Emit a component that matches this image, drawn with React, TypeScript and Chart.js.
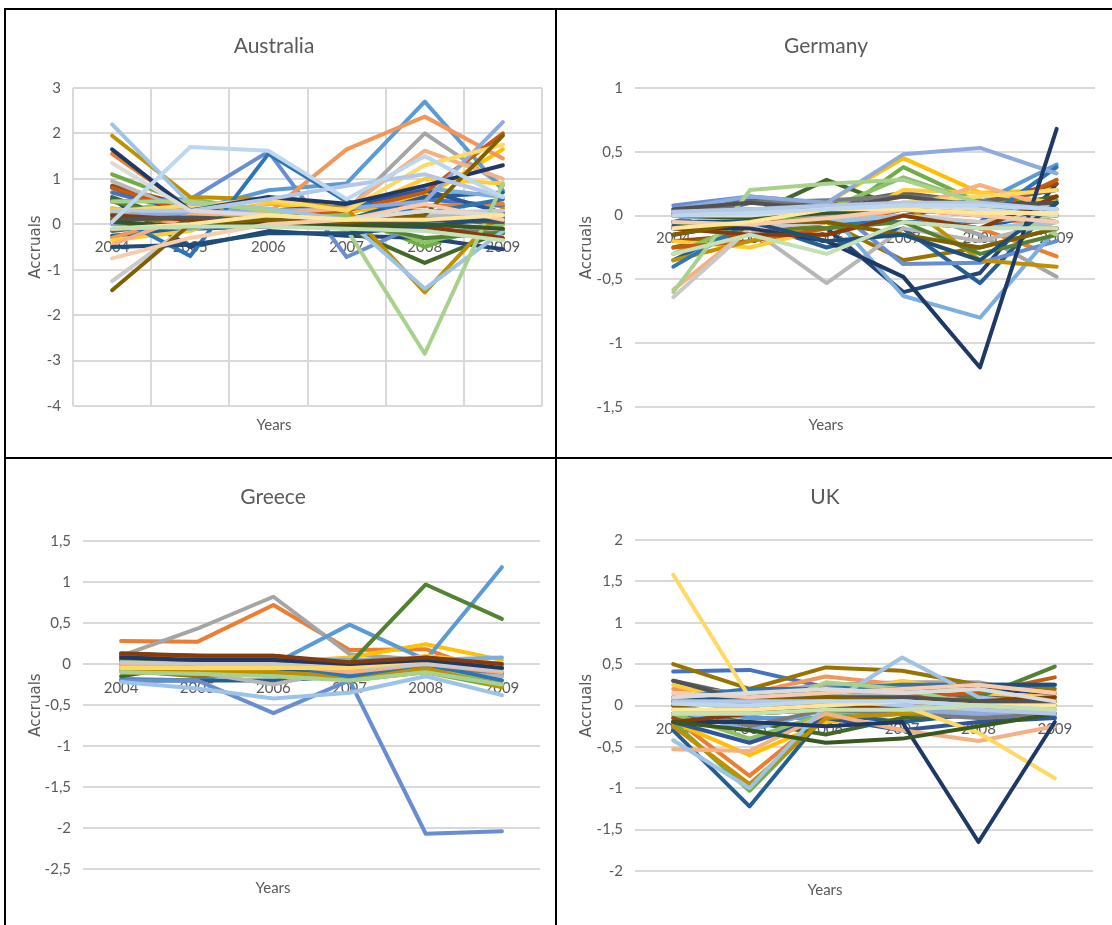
import React, { useEffect, useRef } from 'react';
import { Chart, registerables } from 'chart.js';

Chart.register(...registerables);

const years = ['2004', '2005', '2006', '2007', '2008', '2009'];

const palette = [
  '#4472C4', '#ED7D31', '#A5A5A5', '#FFC000', '#5B9BD5', '#70AD47',
  '#264478', '#9E480E', '#636363', '#997300', '#255E91', '#43682B',
  '#698ED0', '#F1975A', '#B7B7B7', '#FFCD33', '#7CAFDD', '#8CC168',
  '#2F5597', '#C55A11', '#7B7B7B', '#BF9000', '#2E75B6', '#548235',
  '#8FAADC', '#F4B183', '#C9C9C9', '#FFD966', '#9DC3E6', '#A9D18E',
  '#203864', '#843C0C', '#525252', '#7F6000', '#1F4E79', '#385723',
  '#B4C7E7', '#F8CBAD', '#DBDBDB', '#FFE699', '#BDD7EE', '#C5E0B4',
];

const ausTicks = [3, 2, 1, 0, -1, -2, -3, -4];
const gerTicks = [1, 0.5, 0, -0.5, -1, -1.5];
const greTicks = [1.5, 1, 0.5, 0, -0.5, -1, -1.5, -2, -2.5];
const ukTicks = [2, 1.5, 1, 0.5, 0, -0.5, -1, -1.5, -2];

const australia: number[][] = [
  [0.7, 0.25, 0.3, 0.35, 0.55, 0.4],
  [1.55, 0.35, 0.25, 0.3, 0.4, 0.45],
  [0.35, 0.1, 0.15, 0.3, 2.0, 0.85],
  [0.35, 0.2, 0.45, 0.25, 0.6, 1.65],
  [0.2, 0.3, 0.75, 0.9, 2.7, 0.75],
  [1.1, 0.45, 0.3, 0.2, -0.5, 0.1],
  [0.55, -0.5, -0.15, -0.25, -0.3, -0.55],
  [0.85, 0.4, 0.1, 0.1, 0.3, 0.1],
  [-0.15, 0.05, 0.0, 0.05, 0.0, -0.1],
  [0.15, 0.05, 0.1, 0.1, 0.15, 0.0],
  [-0.25, -0.1, -0.05, 0.1, 0.6, 0.7],
  [0.6, 0.0, 0.05, -0.1, -0.85, -0.15],
  [0.5, 0.55, 1.6, -0.72, 0.05, 0.2],
  [-0.3, 0.2, 0.25, 1.65, 2.37, 1.45],
  [0.95, 0.25, 0.2, 0.15, 0.2, 0.2],
  [-0.35, -0.15, 0.5, 0.25, 1.0, 0.9],
  [0.0, -0.1, 0.1, 0.4, 0.8, 0.6],
  [0.25, 0.55, 0.3, 0.2, -0.4, 0.0],
  [0.8, 0.2, 0.3, 0.4, 0.75, 0.25],
  [0.8, 0.25, 0.2, 0.3, 0.7, 2.0],
  [0.05, -0.05, 0.0, 0.0, -0.1, -0.2],
  [1.95, 0.6, 0.55, 0.35, -1.5, 0.35],
  [0.2, -0.7, 1.55, 0.5, 0.25, 0.55],
  [0.5, 0.1, 0.0, 0.05, -0.3, -0.2],
  [0.2, 0.25, 0.3, 0.35, 0.5, 2.25],
  [-0.45, 0.2, 0.25, 0.35, 1.62, 1.0],
  [-1.25, 0.0, 0.1, 0.1, 0.25, 0.3],
  [0.3, 0.4, 0.55, 0.3, 1.3, 1.75],
  [2.2, 0.45, 0.35, 0.1, -1.42, -0.15],
  [0.5, 0.5, 0.3, -0.1, -2.85, 0.9],
  [1.65, 0.3, 0.6, 0.45, 0.85, 1.3],
  [0.2, 0.1, 0.05, 0.0, -0.05, -0.3],
  [0.1, 0.15, 0.1, 0.05, 0.1, 0.05],
  [-1.45, 0.0, 0.1, 0.05, 0.2, 1.95],
  [-0.5, -0.45, -0.2, -0.2, -0.05, 0.15],
  [0.05, -0.05, 0.0, -0.05, 0.0, -0.1],
  [0.3, 0.3, 0.55, 0.85, 1.1, 0.6],
  [-0.75, -0.3, 0.0, 0.1, 0.45, 0.1],
  [1.35, 0.3, 0.2, 0.1, 0.3, 0.2],
  [-0.1, 0.0, 0.2, 0.1, 0.1, 0.2],
  [0.05, 1.7, 1.62, 0.55, 1.5, 0.6],
  [-0.1, -0.05, -0.05, -0.1, -0.15, -0.35],
];

const germany: number[][] = [
  [-0.05, 0.1, 0.08, 0.05, 0.05, 0.1],
  [0.05, -0.15, -0.15, 0.0, -0.1, -0.32],
  [0.0, -0.05, 0.0, 0.05, -0.15, -0.48],
  [-0.3, -0.1, 0.1, 0.45, 0.18, 0.2],
  [0.02, 0.05, 0.05, 0.1, 0.1, 0.4],
  [-0.1, 0.0, -0.05, 0.38, 0.1, 0.12],
  [-0.15, -0.05, -0.1, -0.6, -0.45, 0.25],
  [-0.2, -0.15, -0.1, 0.0, 0.1, 0.25],
  [0.05, 0.12, 0.08, 0.18, 0.1, 0.2],
  [-0.25, -0.1, -0.05, -0.35, -0.25, -0.1],
  [-0.35, -0.05, -0.25, -0.1, -0.53, 0.1],
  [0.0, 0.0, 0.28, 0.05, 0.05, 0.15],
  [0.08, 0.15, 0.1, -0.38, -0.37, -0.2],
  [-0.1, -0.15, -0.1, 0.05, 0.0, -0.1],
  [-0.05, -0.1, -0.53, -0.1, -0.2, -0.05],
  [-0.2, -0.25, -0.1, 0.2, 0.18, 0.1],
  [0.0, 0.05, 0.05, -0.63, -0.8, -0.1],
  [-0.3, -0.05, 0.05, 0.3, 0.1, -0.05],
  [-0.08, -0.1, -0.05, -0.05, -0.1, 0.05],
  [-0.25, -0.2, -0.1, 0.05, 0.0, 0.28],
  [0.02, 0.1, 0.12, 0.15, 0.12, 0.0],
  [-0.35, -0.2, -0.05, 0.1, -0.35, -0.4],
  [-0.4, -0.05, -0.05, -0.05, -0.05, 0.38],
  [-0.05, -0.1, -0.1, -0.05, -0.3, -0.15],
  [0.05, 0.15, 0.1, 0.48, 0.53, 0.33],
  [-0.58, -0.1, -0.05, 0.05, 0.24, 0.05],
  [-0.64, -0.1, -0.05, 0.0, -0.05, 0.0],
  [0.05, 0.0, 0.05, 0.1, 0.15, 0.2],
  [0.0, -0.05, -0.05, 0.0, -0.1, -0.05],
  [-0.6, 0.2, 0.25, 0.28, 0.1, -0.15],
  [-0.1, -0.1, -0.2, -0.48, -1.19, 0.68],
  [-0.1, -0.15, -0.15, 0.0, -0.1, 0.15],
  [0.05, 0.1, 0.05, 0.15, 0.08, 0.1],
  [-0.15, -0.05, -0.05, -0.15, -0.25, -0.1],
  [-0.05, -0.05, -0.2, -0.15, -0.35, 0.1],
  [0.0, -0.02, 0.02, 0.05, 0.05, 0.0],
  [0.03, 0.05, 0.08, 0.1, 0.1, 0.05],
  [-0.05, -0.07, -0.02, 0.05, 0.0, -0.05],
  [0.0, 0.0, 0.05, 0.08, 0.05, 0.0],
  [-0.1, -0.05, 0.05, 0.05, 0.02, 0.02],
  [0.0, 0.02, 0.05, 0.08, 0.08, 0.05],
  [-0.3, -0.15, -0.3, -0.05, -0.1, -0.1],
];

const greece: number[][] = [
  [0.0, -0.15, -0.05, -0.2, 0.05, -0.25],
  [0.28, 0.27, 0.72, 0.17, 0.18, -0.15],
  [0.1, 0.43, 0.82, 0.12, 0.05, -0.1],
  [0.05, 0.0, 0.02, 0.08, 0.24, 0.05],
  [-0.18, -0.2, 0.0, 0.48, 0.05, 1.18],
  [0.02, 0.02, 0.0, -0.2, -0.1, -0.28],
  [0.05, -0.05, 0.0, -0.1, 0.0, -0.05],
  [0.12, 0.1, 0.1, 0.0, 0.08, 0.0],
  [0.1, 0.0, 0.05, -0.05, 0.0, -0.12],
  [-0.08, -0.15, -0.1, -0.15, -0.05, -0.25],
  [-0.2, -0.2, -0.2, -0.15, 0.0, -0.05],
  [-0.15, 0.0, 0.0, -0.1, -0.05, -0.05],
  [-0.2, -0.2, -0.6, -0.2, -2.07, -2.04],
  [0.05, -0.05, 0.05, -0.1, 0.0, -0.12],
  [0.08, -0.1, -0.25, -0.05, 0.02, -0.15],
  [-0.1, -0.1, -0.05, -0.05, 0.1, 0.0],
  [0.0, 0.05, 0.05, 0.05, 0.05, 0.08],
  [-0.08, -0.12, -0.1, -0.15, -0.05, -0.2],
  [0.05, -0.05, -0.05, -0.12, 0.02, -0.1],
  [0.12, 0.1, 0.08, -0.05, 0.08, -0.02],
  [0.05, 0.0, 0.0, -0.05, -0.05, -0.1],
  [-0.05, -0.1, -0.1, -0.15, -0.05, -0.28],
  [0.0, -0.05, 0.0, -0.15, 0.0, -0.2],
  [0.05, 0.02, 0.0, 0.0, 0.97, 0.55],
  [-0.05, -0.05, 0.0, -0.02, 0.02, 0.0],
  [0.0, -0.05, 0.0, -0.1, 0.0, -0.1],
  [0.02, 0.0, 0.0, -0.05, 0.0, -0.08],
  [-0.05, -0.05, -0.05, -0.05, 0.05, -0.02],
  [-0.22, -0.3, -0.42, -0.35, -0.15, -0.38],
  [-0.1, -0.12, -0.15, -0.2, -0.1, -0.25],
  [0.08, 0.05, 0.05, 0.0, 0.05, -0.05],
  [0.13, 0.1, 0.1, 0.02, 0.08, 0.0],
];

const uk: number[][] = [
  [0.41, 0.43, 0.22, 0.15, 0.1, 0.05],
  [-0.15, -0.85, -0.1, 0.0, 0.05, 0.0],
  [0.1, 0.15, 0.25, 0.28, 0.28, 0.1],
  [-0.2, -0.6, -0.2, -0.1, -0.05, 0.1],
  [0.0, -0.15, -0.15, -0.1, -0.05, -0.1],
  [-0.2, -1.03, -0.1, -0.05, 0.0, -0.1],
  [0.05, 0.1, 0.15, 0.2, 0.2, 0.15],
  [-0.15, -0.1, 0.0, 0.05, 0.1, 0.05],
  [0.3, 0.1, 0.2, 0.15, 0.1, 0.1],
  [0.5, 0.2, 0.46, 0.42, 0.25, 0.2],
  [-0.3, -1.22, -0.1, -0.2, -0.1, -0.15],
  [-0.1, -0.2, -0.35, -0.15, -0.1, -0.05],
  [0.05, 0.0, 0.05, 0.0, -0.15, -0.15],
  [0.2, 0.15, 0.35, 0.25, 0.25, 0.15],
  [0.05, -0.05, 0.1, 0.15, 0.05, 0.0],
  [0.25, 0.0, 0.1, 0.3, 0.15, 0.1],
  [-0.05, -0.3, -0.05, -0.1, -0.1, -0.15],
  [-0.1, -0.4, -0.1, -0.05, 0.0, -0.05],
  [-0.2, -0.45, -0.15, -0.3, -0.2, -0.15],
  [-0.1, -0.05, 0.05, 0.1, 0.15, 0.34],
  [0.0, -0.25, -0.05, -0.1, -0.15, -0.1],
  [-0.25, -0.95, -0.15, -0.1, -0.05, 0.05],
  [0.1, 0.2, 0.2, 0.25, 0.25, 0.25],
  [-0.1, -0.1, -0.05, 0.0, 0.1, 0.47],
  [0.0, 0.05, 0.1, -0.05, -0.1, -0.05],
  [-0.53, -0.55, -0.1, -0.3, -0.43, -0.25],
  [0.05, 0.0, 0.05, 0.05, 0.0, 0.0],
  [1.58, 0.1, 0.05, 0.0, -0.33, -0.88],
  [-0.42, -1.0, 0.0, 0.58, 0.1, 0.0],
  [-0.1, -0.1, 0.28, 0.2, 0.0, -0.05],
  [-0.2, -0.2, -0.25, -0.2, -1.65, -0.2],
  [-0.2, -0.1, -0.05, 0.0, 0.05, 0.1],
  [0.3, 0.05, 0.1, 0.1, 0.05, 0.05],
  [0.0, 0.05, 0.1, 0.05, 0.0, 0.0],
  [0.05, 0.1, 0.15, 0.2, 0.25, 0.25],
  [-0.2, -0.3, -0.45, -0.4, -0.25, -0.1],
  [0.05, 0.05, 0.05, 0.0, -0.05, -0.1],
  [0.15, 0.1, 0.15, 0.2, 0.25, 0.15],
  [0.1, 0.15, 0.2, 0.15, 0.2, 0.05],
  [-0.05, -0.05, 0.0, 0.05, 0.0, 0.0],
  [0.02, 0.0, 0.05, 0.05, 0.0, -0.05],
  [-0.1, -0.1, -0.05, -0.05, 0.0, -0.05],
];

const FONT = 'Lato, "Noto Sans", sans-serif';
const TXT = '#595959';
const GRID = '#d9d9d9';

type Box = { x: number; y: number; w: number; h: number };
type Plot = { left: number; right: number; top: number; bottom: number };

type PanelProps = {
  title: string;
  series: number[][];
  ticks: number[];
  vgrid: boolean;
  box: Box;
  plot: Plot;
  titleY: number;
  yearsY: number;
  labelGap: number;
};

function Panel({ title, series, ticks, vgrid, box, plot, titleY, yearsY, labelGap }: PanelProps) {
  const ref = useRef<HTMLCanvasElement>(null);
  useEffect(() => {
    const canvas = ref.current;
    if (!canvas) return;
    const min = Math.min(...ticks);
    const max = Math.max(...ticks);
    const chart = new Chart(canvas, {
      type: 'line',
      data: {
        labels: years,
        datasets: series.map((d, i) => ({
          label: 'Series ' + (i + 1),
          data: d,
          borderColor: palette[i % palette.length],
          backgroundColor: palette[i % palette.length],
          borderWidth: 4,
          pointRadius: 0,
          fill: false,
          tension: 0,
          borderJoinStyle: 'round',
          borderCapStyle: 'round',
          order: -i,
          xAxisID: 'x',
          yAxisID: 'y',
        })),
      },
      options: {
        responsive: false,
        maintainAspectRatio: false,
        animation: false,
        events: [],
        layout: { padding: { left: 0, right: box.w - plot.right, top: 0, bottom: 0 } },
        plugins: {
          legend: { display: false },
          tooltip: { enabled: false },
          title: {
            display: true,
            text: title,
            color: TXT,
            font: { family: FONT, size: 21, weight: 'normal', lineHeight: 1.2 },
            padding: { top: titleY - 12.6, bottom: plot.top - titleY - 12.6 },
          },
          subtitle: {
            display: true,
            position: 'bottom',
            text: 'Years',
            color: TXT,
            font: { family: FONT, size: 15, weight: 'normal', lineHeight: 1.2 },
            padding: { top: yearsY - plot.bottom - 9, bottom: box.h - yearsY - 9 },
          },
        },
        scales: {
          x: {
            type: 'category',
            position: 'bottom',
            offset: true,
            ticks: { display: false },
            grid: { display: vgrid, offset: true, color: GRID, lineWidth: 2, drawTicks: false },
            border: { display: false },
            afterFit: (s: any) => { s.height = 0; },
          },
          xl: {
            type: 'category',
            position: { y: 0 },
            offset: true,
            ticks: { color: TXT, font: { family: FONT, size: 15, lineHeight: 1.2 }, padding: labelGap, maxRotation: 0, autoSkip: false },
            grid: { display: false, drawTicks: false },
            border: { display: false },
          },
          y: {
            type: 'linear',
            position: 'left',
            min,
            max,
            afterBuildTicks: (s: any) => { s.ticks = ticks.map((v) => ({ value: v })); },
            ticks: {
              padding: 12,
              color: TXT,
              font: { family: FONT, size: 15 },
              callback: (v: any) => String(v).replace('.', ','),
            },
            grid: { color: GRID, lineWidth: 2, drawTicks: false },
            border: { display: false },
            title: {
              display: true,
              text: 'Accruals',
              color: TXT,
              font: { family: '"DejaVu Sans", sans-serif', size: 15, lineHeight: 1.2 },
              padding: { top: 21, bottom: 0 },
            },
            afterFit: (s: any) => { s.width = plot.left; },
          },
        },
      } as any,
    });
    return () => chart.destroy();
  }, []);
  return (
    <div style={{ position: 'absolute', left: box.x, top: box.y, width: box.w, height: box.h }}>
      <canvas ref={ref} width={box.w} height={box.h} style={{ display: 'block', width: box.w, height: box.h }} />
    </div>
  );
}

const line = (x: number, y: number, w: number, h: number) => (
  <div style={{ position: 'absolute', left: x, top: y, width: w, height: h, background: '#000' }} />
);

export default function App() {
  return (
    <div style={{ position: 'fixed', left: 0, top: 0, width: 1112, height: 925, background: '#fff', overflow: 'hidden' }}>
      <Panel title="Australia" series={australia} ticks={ausTicks} vgrid={true}
        box={{ x: 6, y: 10, w: 549, h: 447 }} plot={{ left: 67, right: 536, top: 78, bottom: 396 }}
        titleY={36} yearsY={415} labelGap={14} />
      <Panel title="Germany" series={germany} ticks={gerTicks} vgrid={false}
        box={{ x: 557, y: 10, w: 555, h: 447 }} plot={{ left: 78, right: 538, top: 78, bottom: 397 }}
        titleY={36} yearsY={415} labelGap={14} />
      <Panel title="Greece" series={greece} ticks={greTicks} vgrid={false}
        box={{ x: 6, y: 459, w: 549, h: 466 }} plot={{ left: 77, right: 534, top: 82, bottom: 410 }}
        titleY={38} yearsY={429} labelGap={15} />
      <Panel title="UK" series={uk} ticks={ukTicks} vgrid={false}
        box={{ x: 557, y: 459, w: 555, h: 466 }} plot={{ left: 78, right: 536, top: 81, bottom: 412 }}
        titleY={38} yearsY={431} labelGap={15} />
      {line(4, 8, 1108, 2)}
      {line(4, 8, 2, 917)}
      {line(555, 8, 2, 917)}
      {line(4, 457, 1108, 2)}
    </div>
  );
}
